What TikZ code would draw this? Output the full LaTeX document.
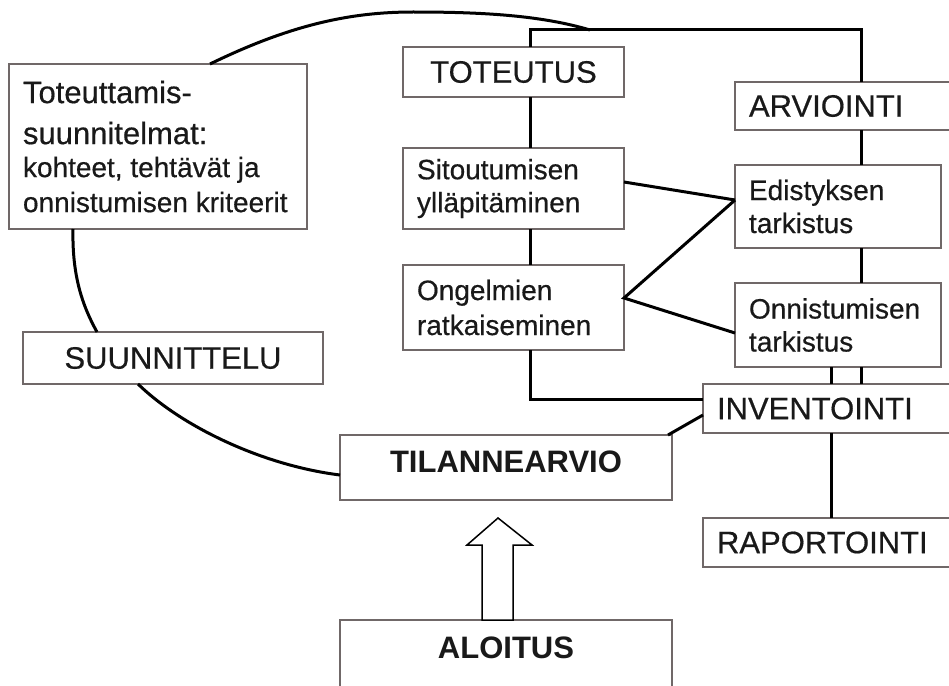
\documentclass[tikz,border=0pt]{standalone}
\usepackage{fontspec}
\setmainfont{Liberation Sans}[UprightFeatures = {FakeBold = 0.5}]
\usetikzlibrary{arrows}
\usetikzlibrary{shapes}
\definecolor{boxgray}{RGB}{112,104,104}

\begin{document}
\begin{tikzpicture}[x = 1pt, y = -1pt, font = \fontsize{28}{33}\selectfont]
	\tikzstyle{BoxStyle} = [draw = boxgray, line width = 1.3pt, fill = white, inner sep = 0pt, outer sep = 0pt, text = black!90]
	\tikzstyle{leftStyle} = [BoxStyle, inner xsep = 14pt, align = flush left]
	\tikzstyle{capsStyle} = [BoxStyle, align = center, font = \fontsize{31}{37}\selectfont]
	\tikzstyle{boldStyle} = [capsStyle, font = \fontsize{31}{37}\selectfont\bfseries, text depth = 12pt]
	\tikzstyle{LineStyle} = [line width = 3pt]
	\useasboundingbox (0, 0) rectangle (949, 685);
	\clip (0, 0) rectangle (949, 685);
	\fill[white] (0, 0) rectangle (949, 685);
	\coordinate (tl) at (530, 30);
	\coordinate (tr) at (861, 30);
	\coordinate (bl) at (530, 399);
	\coordinate (arc) at (590, 30);
	\node[leftStyle, text width = 270pt, minimum height = 165pt] (plan) at (158, 146.5) {\fontsize{31}{37}\selectfont Toteuttamis-\\[4pt] suunnitelmat:\\ \fontsize{28}{33}\selectfont kohteet, tehtävät ja\\[2pt] onnistumisen kriteerit};
	\node[capsStyle, minimum width = 221pt, minimum height = 50pt] (toteutus) at (513.5, 72) {TOTEUTUS};
	\node[leftStyle, text width = 193pt, minimum height = 81pt] (sito) at (513.5, 188.5) {Sitoutumisen\\ylläpitäminen};
	\node[leftStyle, text width = 193pt, minimum height = 85pt] (ongel) at (513.5, 307.5) {Ongelmien\\[2pt] ratkaiseminen};
	\node[leftStyle, text width = 197pt, minimum height = 48pt, font = \fontsize{31}{37}\selectfont] (arvio) at (847.5, 106) {ARVIOINTI};
	\node[leftStyle, text width = 178pt, minimum height = 83pt] (edist) at (838, 206.5) {Edistyksen\\tarkistus};
	\node[leftStyle, text width = 178pt, minimum height = 84pt] (onnist) at (838, 325) {Onnistumisen\\tarkistus};
	\node[leftStyle, text width = 229pt, minimum height = 49pt, font = \fontsize{31}{37}\selectfont] (invent) at (831.5, 408.5) {INVENTOINTI};
	\node[leftStyle, text width = 229pt, minimum height = 49pt, font = \fontsize{31}{37}\selectfont] (raport) at (831.5, 542.5) {RAPORTOINTI};
	\node[capsStyle, minimum width = 300pt, minimum height = 52pt] (suunn) at (173, 358) {SUUNNITTELU};
	\node[boldStyle, minimum width = 332pt, minimum height = 65pt] (tilanne) at (506, 467.5) {TILANNEARVIO};
	\node[boldStyle, minimum width = 332pt, minimum height = 67pt] (aloitus) at (506, 653.5) {ALOITUS};
	% toteutus side
	\draw[LineStyle] (toteutus.north -| tl) -- (tl) -- (tr) -- (arvio.north -| tr);
	\draw[LineStyle] (toteutus.south -| tl) -- (sito.north -| tl);
	\draw[LineStyle] (sito.south -| tl) -- (ongel.north -| tl);
	\draw[LineStyle] (ongel.south -| tl) -- (bl) -- (bl -| invent.west);
	% arviointi side
	\draw[LineStyle] (arvio.south -| tr) -- (edist.north -| tr);
	\draw[LineStyle] (edist.south -| tr) -- (onnist.north -| tr);
	\draw[LineStyle] (onnist.south -| tr) -- (invent.north -| tr);
	\draw[LineStyle] (onnist.south -| invent.north) -- (invent.north);
	\draw[LineStyle] (invent.south) -- (raport.north);
	\draw[LineStyle] ([yshift = 6.5pt]sito.east) -- ([yshift = 6.5pt]edist.west);
	\draw[LineStyle] ([yshift = 6.5pt]edist.west) -- ([yshift = 9.5pt]ongel.east) -- ([yshift = -8pt]onnist.west);
	\draw[LineStyle] ([xshift = -4pt]tilanne.north east) -- ([yshift = -6.5pt]invent.west);
	% the loop
	\draw[LineStyle] ([xshift = 52pt]plan.north) .. controls (290, 25) and (350, 12) .. (413, 12) .. controls (480, 12) and (540, 15) .. (arc);
	\draw[LineStyle] ([xshift = 64pt]plan.south west) .. controls (72, 275) and (82, 305) .. ([xshift = 74pt]suunn.north west);
	\draw[LineStyle] ([xshift = 115pt]suunn.south west) .. controls (180, 425) and (260, 465) .. ([yshift = -7.5pt]tilanne.west);
	% start arrow
	\draw[line width = 1.5pt, fill = white] ([xshift = -24pt]aloitus.north) -- ++(0, -75) -- ++(-15, 0) -- ++(31, -27) -- ++(34, 27) -- ++(-19, 0) -- ++(0, 75) -- cycle;
\end{tikzpicture}
\end{document}
